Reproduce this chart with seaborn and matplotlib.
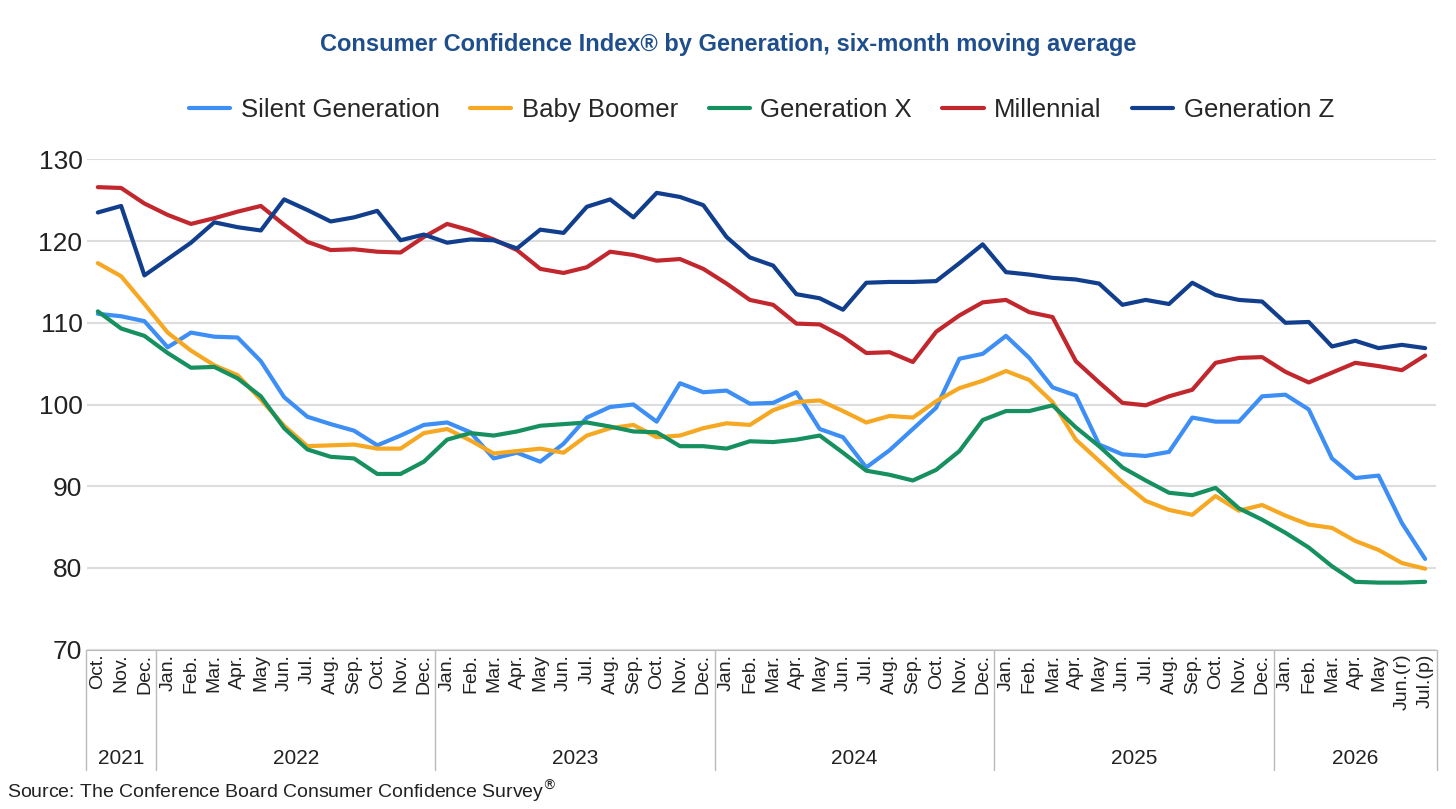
import numpy as np
import pandas as pd
import matplotlib
matplotlib.use("Agg")
import matplotlib.pyplot as plt
import matplotlib.transforms as mtransforms
import seaborn as sns

months = (["Oct.", "Nov.", "Dec."]
          + ["Jan.", "Feb.", "Mar.", "Apr.", "May", "Jun.", "Jul.", "Aug.", "Sep.", "Oct.", "Nov.", "Dec."] * 4
          + ["Jan.", "Feb.", "Mar.", "Apr.", "May", "Jun.(r)", "Jul.(p)"])
years = ["2021", "2022", "2023", "2024", "2025", "2026"]
year_len = [3, 12, 12, 12, 12, 7]

silent = [111.1, 110.8, 110.2, 107.0, 108.8, 108.3, 108.2, 105.3, 100.9, 98.5,
          97.6, 96.8, 95.0, 96.2, 97.5, 97.8, 96.6, 93.4, 94.1, 93.0,
          95.2, 98.4, 99.7, 100.0, 97.9, 102.6, 101.5, 101.7, 100.1, 100.2,
          101.5, 97.0, 96.0, 92.3, 94.4, 97.0, 99.6, 105.6, 106.2, 108.4,
          105.7, 102.1, 101.1, 95.1, 93.9, 93.7, 94.2, 98.4, 97.9, 97.9,
          101.0, 101.2, 99.4, 93.4, 91.0, 91.3, 85.5, 81.1]
boomer = [117.3, 115.7, 112.3, 108.8, 106.6, 104.8, 103.6, 100.6, 97.4, 94.9,
          95.0, 95.1, 94.6, 94.6, 96.5, 97.0, 95.6, 94.0, 94.3, 94.6,
          94.1, 96.2, 97.1, 97.5, 96.0, 96.2, 97.1, 97.7, 97.5, 99.3,
          100.3, 100.5, 99.2, 97.8, 98.6, 98.4, 100.4, 102.0, 102.9, 104.1,
          103.0, 100.3, 95.7, 93.1, 90.5, 88.2, 87.1, 86.5, 88.8, 87.0,
          87.7, 86.4, 85.3, 84.9, 83.3, 82.2, 80.6, 79.9]
gen_x = [111.4, 109.3, 108.4, 106.3, 104.5, 104.6, 103.2, 101.0, 97.1, 94.5,
         93.6, 93.4, 91.5, 91.5, 93.0, 95.7, 96.5, 96.2, 96.7, 97.4,
         97.6, 97.8, 97.3, 96.7, 96.6, 94.9, 94.9, 94.6, 95.5, 95.4,
         95.7, 96.2, 94.1, 91.9, 91.4, 90.7, 92.0, 94.3, 98.1, 99.2,
         99.2, 99.9, 97.2, 94.9, 92.3, 90.7, 89.2, 88.9, 89.8, 87.3,
         85.9, 84.3, 82.5, 80.2, 78.3, 78.2, 78.2, 78.3]
millennial = [126.6, 126.5, 124.6, 123.2, 122.1, 122.8, 123.6, 124.3, 122.0, 119.9,
              118.9, 119.0, 118.7, 118.6, 120.5, 122.1, 121.3, 120.2, 118.9, 116.6,
              116.1, 116.8, 118.7, 118.3, 117.6, 117.8, 116.6, 114.8, 112.8, 112.2,
              109.9, 109.8, 108.3, 106.3, 106.4, 105.2, 108.9, 110.9, 112.5, 112.8,
              111.3, 110.7, 105.3, 102.7, 100.2, 99.9, 101.0, 101.8, 105.1, 105.7,
              105.8, 104.0, 102.7, 103.9, 105.1, 104.7, 104.2, 106.0]
gen_z = [123.5, 124.3, 115.8, 117.8, 119.8, 122.3, 121.7, 121.3, 125.1, 123.8,
         122.4, 122.9, 123.7, 120.1, 120.8, 119.8, 120.2, 120.1, 119.1, 121.4,
         121.0, 124.2, 125.1, 122.9, 125.9, 125.4, 124.4, 120.5, 118.0, 117.0,
         113.5, 113.0, 111.6, 114.9, 115.0, 115.0, 115.1, 117.3, 119.6, 116.2,
         115.9, 115.5, 115.3, 114.8, 112.2, 112.8, 112.3, 114.9, 113.4, 112.8,
         112.6, 110.0, 110.1, 107.1, 107.8, 106.9, 107.3, 106.9]

series = {"Silent Generation": silent, "Baby Boomer": boomer, "Generation X": gen_x,
          "Millennial": millennial, "Generation Z": gen_z}
colors = ["#3D8EF5", "#F7A823", "#17905F", "#C1272D", "#113F8D"]

df = pd.DataFrame(series)
df["t"] = np.arange(len(months))
long = df.melt(id_vars="t", var_name="gen", value_name="val")

sns.set_style("white")
plt.rcParams["font.family"] = ["Liberation Sans", "DejaVu Sans"]

fig = plt.figure(figsize=(14.56, 8.09), dpi=100)
ax = fig.add_axes([0.06, 0.197, 0.926, 0.606])
sns.lineplot(data=long, x="t", y="val", hue="gen", palette=colors, linewidth=3, ax=ax)

ax.set_ylim(70, 130)
ax.set_yticks(range(70, 131, 10))
ax.set_xlim(-0.45, len(months) - 0.55)
ax.yaxis.grid(True, color="#DDDDDD", linewidth=1.5)
ax.set_axisbelow(True)
for s in ["top", "right", "left"]:
    ax.spines[s].set_visible(False)
ax.spines["bottom"].set_color("#BBBBBB")
ax.tick_params(axis="y", labelsize=19, length=0, colors="#222222")
ax.set_xticks(range(len(months)))
ax.set_xticklabels(months, rotation=90, fontsize=14, color="#222222")
ax.tick_params(axis="x", length=0, pad=3)
ax.set_xlabel("")
ax.set_ylabel("")

trans = mtransforms.blended_transform_factory(ax.transData, ax.transAxes)
start = 0
bounds = [-0.5]
for y, n in zip(years, year_len):
    ax.text(start + (n - 1) / 2, -0.222, y, transform=trans, ha="center", va="center",
            fontsize=15, color="#222222")
    start += n
    bounds.append(start - 0.5)
for b in bounds:
    ax.plot([b, b], [0, -0.245], transform=trans, color="#BBBBBB", linewidth=1, clip_on=False)

ax.legend(loc="lower center", bbox_to_anchor=(0.5, 1.03), ncol=5, frameon=False,
          fontsize=18.5, handlelength=1.6, columnspacing=1.2, handletextpad=0.4)

fig.text(0.5, 0.945, "Consumer Confidence Index® by Generation, six-month moving average",
         ha="center", va="center", fontsize=17, fontweight="bold", color="#1F4E8C")
fig.text(0.005, 0.022, "Source: The Conference Board Consumer Confidence Survey$^{®}$",
         ha="left", va="center", fontsize=14, color="#222222")

fig.savefig("out.png", dpi=100)
